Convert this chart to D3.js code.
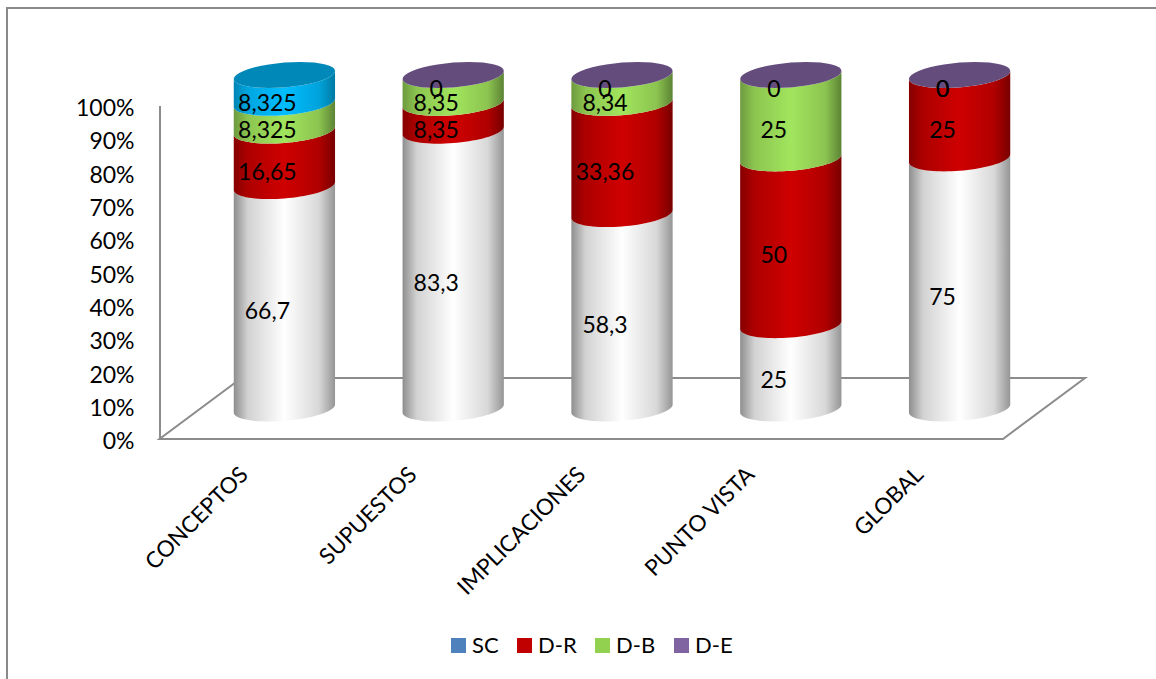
<!DOCTYPE html>
<html>
<head>
<meta charset="utf-8">
<script src="https://cdn.jsdelivr.net/npm/d3@7"></script>
<style>
  html, body { margin: 0; padding: 0; background: #fff; }
  svg { display: block; }
  text { font-family: Lato, "Noto Sans", sans-serif; fill: #000; }
</style>
</head>
<body>
<svg id="chart" width="1156" height="679"></svg>
<script>
// Stacked cylinder chart data
const categories = ["CONCEPTOS", "SUPUESTOS", "IMPLICACIONES", "PUNTO VISTA", "GLOBAL"];
const seriesNames = ["SC", "D-R", "D-B", "D-E"];
const scValues = [66.7, 83.3, 58.3, 25, 75];
const drValues = [16.65, 8.35, 33.36, 50, 25];
const dbValues = [8.325, 8.35, 8.34, 25, 0];
const deValues = [8.325, 0, 0, 0, 0];
const valueLabels = [
  ["66,7", "83,3", "58,3", "25", "75"],
  ["16,65", "8,35", "33,36", "50", "25"],
  ["8,325", "8,35", "8,34", "25", "0"],
  ["8,325", "0", "0", "0", "0"]
];
const tickValues = d3.range(0, 101, 10);
const legendColors = ["#4f81bd", "#c00000", "#92d050", "#8064a2"];

// Shading across a cylinder: edge, shoulder, highlight, shoulder, edge
const shades = {
  sc: ["#8e8e8e", "#d2d2d2", "#ffffff", "#d8d8d8", "#959595"],
  dr: ["#860000", "#ad0000", "#cf0000", "#b00000", "#780000"],
  db: ["#6d9a3f", "#8cc550", "#a1e55d", "#8cc450", "#5c8435"],
  de: ["#0084b4", "#00a6e0", "#00bdff", "#00a3dc", "#007ba3"]
};
const shadeStops = ["0%", "14%", "50%", "84%", "100%"];
const capColors = { de: "#0088b8", empty: "#644c7c" };
const seriesShades = ["sc", "dr", "db", "de"];
const seriesValues = [scValues, drValues, dbValues, deValues];

const svg = d3.select("#chart");
const defs = svg.append("defs");
Object.entries(shades).forEach(([key, colors]) => {
  const g = defs.append("linearGradient").attr("id", "shade-" + key)
    .attr("x1", 0).attr("x2", 1).attr("y1", 0).attr("y2", 0);
  colors.forEach((c, i) => g.append("stop").attr("offset", shadeStops[i]).attr("stop-color", c));
});

// Chart frame (only the top and left edges fall inside the page)
svg.append("path").attr("d", "M7,679V8H1156").attr("fill", "none")
  .attr("stroke", "#8a8a8a").attr("stroke-width", 2);

// Scales
const x = d3.scaleBand().domain(categories).range([200, 1044]).paddingInner(0).paddingOuter(0);
const cylinderY = d3.scaleLinear().domain([0, 100]).range([408.5, 75]);
const axisY = d3.scaleLinear().domain([0, 100]).range([438.5, 105.5]);
const radiusX = x.bandwidth() * 0.3;
const radiusY = 12.4;
const tilt = 4;

// Floor of the 3-D plot
const floorDepth = 61, floorSkew = 82;
const floorLeft = 159.5, floorRight = 1003, floorY = axisY(0) + 0.5;
svg.append("path")
  .attr("d", d3.line()([
    [floorLeft, floorY], [floorRight, floorY],
    [floorRight + floorSkew, floorY - floorDepth],
    [floorLeft + floorSkew, floorY - floorDepth]
  ]) + "Z")
  .attr("fill", "none").attr("stroke", "#8c8c8c").attr("stroke-width", 2);

// Value axis
const axis = d3.axisLeft(axisY).tickValues(tickValues).tickSize(0).tickPadding(25)
  .tickFormat(d => d + "%");
const axisG = svg.append("g").attr("transform", `translate(${floorLeft},0)`).call(axis);
axisG.select(".domain").attr("stroke", "#8c8c8c").attr("stroke-width", 2);
axisG.selectAll("text").attr("font-size", 23).attr("dy", "0.7em").attr("y", -6).attr("fill", "#000");

// Cylinder outlines
const curve = d3.line();
const arcPoint = (cx, v, theta) => [
  cx - radiusX * Math.cos(theta),
  cylinderY(v) + tilt * Math.cos(theta) + radiusY * Math.sin(theta)
];
const angles = (from, to) => d3.range(0, 41).map(i => from + (to - from) * i / 40);
const sidePath = (cx, v0, v1) => curve(
  angles(0, Math.PI).map(t => arcPoint(cx, v0, t))
    .concat(angles(Math.PI, 0).map(t => arcPoint(cx, v1, t)))
) + "Z";
const capPath = (cx, v) => curve(angles(0, 2 * Math.PI).map(t => arcPoint(cx, v, t))) + "Z";

categories.forEach((cat, i) => {
  const cx = x(cat) + x.bandwidth() / 2;
  const col = svg.append("g").attr("class", "column");
  let base = 0;
  const labels = [];
  seriesValues.forEach((vals, s) => {
    const top = base + vals[i];
    if (vals[i] > 0) {
      col.append("path").attr("d", sidePath(cx, base, top))
        .attr("fill", `url(#shade-${seriesShades[s]})`);
    }
    labels.push({ text: valueLabels[s][i], mid: (base + top) / 2 });
    base = top;
  });
  col.append("path").attr("d", capPath(cx, base))
    .attr("fill", deValues[i] > 0 ? capColors.de : capColors.empty);
  // Value labels sit left of the cylinder axis, on the front surface
  labels.forEach(l => {
    col.append("text").attr("x", cx - 17).attr("y", cylinderY(l.mid) + radiusY + 1)
      .attr("dy", "0.36em").attr("text-anchor", "middle").attr("font-size", 23).text(l.text);
  });
  // Category label
  const lx = cx - 35, ly = 476;
  svg.append("text").attr("transform", `translate(${lx},${ly}) rotate(-45)`)
    .attr("text-anchor", "end").attr("font-size", 22.5).text(cat);
});

// Legend
const legendX = [451, 517, 595, 674];
const legend = svg.append("g").selectAll("g").data(seriesNames).join("g")
  .attr("transform", (d, i) => `translate(${legendX[i]},638)`);
legend.append("rect").attr("width", 15).attr("height", 15).attr("fill", (d, i) => legendColors[i]);
legend.append("text").attr("x", 21).attr("y", 7.5).attr("dy", "0.36em")
  .attr("font-size", 22).text(d => d);
</script>
</body>
</html>
